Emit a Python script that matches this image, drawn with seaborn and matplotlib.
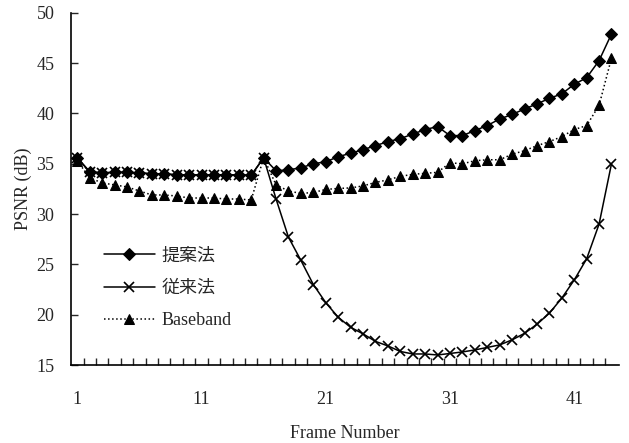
import numpy as np
import pandas as pd
import matplotlib
matplotlib.use("Agg")
import matplotlib.pyplot as plt
import seaborn as sns

frames = list(range(1, 45))

proposed = [35.6, 34.2, 34.1, 34.15, 34.15, 34.1, 34.0, 34.0, 33.9, 33.9,
            33.9, 33.9, 33.9, 33.9, 33.85, 35.6, 34.3, 34.4, 34.6, 35.0,
            35.2, 35.7, 36.05, 36.4, 36.8, 37.2, 37.5, 37.95, 38.4, 38.7,
            37.8, 37.8, 38.3, 38.8, 39.45, 39.9, 40.45, 40.95, 41.5, 41.95,
            42.9, 43.55, 45.25, 47.9]

conventional = [35.6, 34.2, 34.1, 34.15, 34.15, 34.1, 34.0, 34.0, 33.9, 33.9,
                33.9, 33.9, 33.9, 33.9, 33.85, 35.6, 31.5, 27.7, 25.4, 23.0,
                21.2, 19.75, 18.75, 18.1, 17.35, 16.9, 16.35, 16.1, 16.1, 16.0,
                16.15, 16.3, 16.5, 16.75, 17.0, 17.5, 18.15, 19.05, 20.15, 21.65,
                23.45, 25.55, 29.0, 35.0]

baseband = [35.3, 33.6, 33.1, 32.9, 32.7, 32.3, 31.9, 31.9, 31.8, 31.6,
            31.6, 31.6, 31.5, 31.5, 31.4, 35.6, 32.9, 32.3, 32.05, 32.15,
            32.45, 32.55, 32.6, 32.8, 33.15, 33.4, 33.75, 33.95, 34.05, 34.15,
            35.1, 35.0, 35.3, 35.4, 35.4, 35.95, 36.3, 36.8, 37.2, 37.7,
            38.4, 38.8, 40.8, 45.5]

series_names = ["提案法", "従来法", "Baseband"]
x_labels = [1, 11, 21, 31, 41]
y_ticks = [15, 20, 25, 30, 35, 40, 45, 50]

sns.set_style("white")
plt.rcParams["font.family"] = ["Liberation Serif", "Noto Sans CJK JP"]
plt.rcParams["axes.unicode_minus"] = False

fig = plt.figure(figsize=(6.29, 4.43), dpi=100)
ax = fig.add_axes([0.113, 0.176, 0.871, 0.795])

styles = [
    dict(marker="D", linestyle="-", markersize=6),
    dict(marker="x", linestyle="-", markersize=6.5, markeredgewidth=1.2),
    dict(marker="^", linestyle=":", markersize=7.5),
]
for name, vals, st in zip(series_names, [proposed, conventional, baseband], styles):
    df = pd.DataFrame({"Frame": frames, "PSNR": vals})
    sns.lineplot(data=df, x="Frame", y="PSNR", ax=ax, color="black",
                 linewidth=1.1, label=name, markeredgecolor="black",
                 markerfacecolor="black", **st)

ax.set_xlim(0.5, 44.6)
ax.set_ylim(15, 50)
ax.set_xticks(x_labels)
ax.set_xticklabels([str(v) for v in x_labels])
ax.set_xticks(np.arange(1.5, 44.5, 1.0), minor=True)
ax.tick_params(axis="x", which="major", length=0, pad=19, labelsize=13)
ax.tick_params(axis="x", which="minor", direction="in", length=5, width=1, bottom=True)
ax.set_yticks(y_ticks)
ax.tick_params(axis="y", which="major", direction="in", length=5, width=1,
               pad=12, labelsize=13, left=True)

for side in ["top", "right"]:
    ax.spines[side].set_visible(False)
for side in ["left", "bottom"]:
    ax.spines[side].set_color("black")
    ax.spines[side].set_linewidth(1.2)

ax.set_xlabel("Frame Number", fontsize=13, labelpad=12)
ax.set_ylabel("PSNR (dB)", fontsize=13, labelpad=3)

ax.legend(loc="upper left", bbox_to_anchor=(0.06, 0.333), frameon=False,
          fontsize=13, handlelength=2.8, handletextpad=0.4,
          labelspacing=0.85, borderpad=0, borderaxespad=0)

fig.savefig("out.png", dpi=100, facecolor="white")
